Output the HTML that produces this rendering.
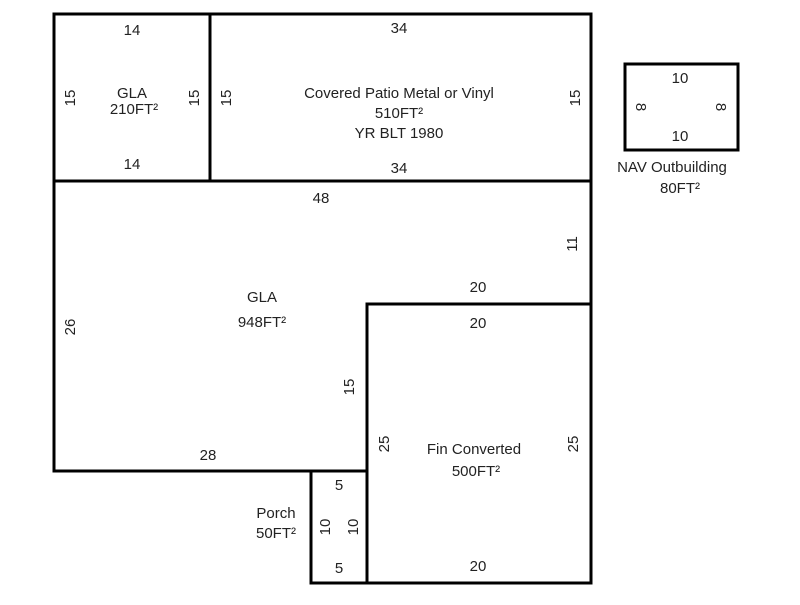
<!DOCTYPE html>
<html><head><style>
body{margin:0;background:#fff}
</style></head><body>
<svg width="800" height="600" xmlns="http://www.w3.org/2000/svg" font-family="Liberation Sans, sans-serif" font-size="15" fill="#222">
<g stroke="#000" stroke-width="3" fill="none" stroke-linecap="square">
<rect x="54" y="14" width="537" height="167"/>
<line x1="210" y1="14" x2="210" y2="181"/>
<line x1="54" y1="181" x2="54" y2="471"/>
<line x1="591" y1="181" x2="591" y2="583"/>
<line x1="367" y1="304" x2="591" y2="304"/>
<line x1="367" y1="304" x2="367" y2="583"/>
<line x1="54" y1="471" x2="367" y2="471"/>
<line x1="311" y1="471" x2="311" y2="583"/>
<line x1="311" y1="583" x2="591" y2="583"/>
<rect x="625" y="64" width="113" height="86"/>
</g>
<g text-anchor="middle">
<text x="132" y="35">14</text>
<text x="132" y="169">14</text>
<text x="132" y="98">GLA</text>
<text x="134" y="114">210FT²</text>
<text x="399" y="33">34</text>
<text x="399" y="173">34</text>
<text x="399" y="98">Covered Patio Metal or Vinyl</text>
<text x="399" y="118">510FT²</text>
<text x="399" y="138">YR BLT 1980</text>
<text x="321" y="203">48</text>
<text x="262" y="302">GLA</text>
<text x="262" y="327">948FT²</text>
<text x="478" y="292">20</text>
<text x="478" y="328">20</text>
<text x="208" y="460">28</text>
<text x="474" y="454">Fin Converted</text>
<text x="476" y="476">500FT²</text>
<text x="478" y="571">20</text>
<text x="339" y="490">5</text>
<text x="339" y="573">5</text>
<text x="276" y="518">Porch</text>
<text x="276" y="538">50FT²</text>
<text x="680" y="83">10</text>
<text x="680" y="141">10</text>
<text x="672" y="172">NAV Outbuilding</text>
<text x="680" y="193">80FT²</text>
<text transform="translate(75,98) rotate(-90)">15</text>
<text transform="translate(199,98) rotate(-90)">15</text>
<text transform="translate(231,98) rotate(-90)">15</text>
<text transform="translate(580,98) rotate(-90)">15</text>
<text transform="translate(577,244) rotate(-90)">11</text>
<text transform="translate(75,327) rotate(-90)">26</text>
<text transform="translate(354,387) rotate(-90)">15</text>
<text transform="translate(389,444) rotate(-90)">25</text>
<text transform="translate(578,444) rotate(-90)">25</text>
<text transform="translate(330,527) rotate(-90)">10</text>
<text transform="translate(358,527) rotate(-90)">10</text>
<text transform="translate(636,107) rotate(90)">8</text>
<text transform="translate(716,107) rotate(90)">8</text>
</g>
</svg>
</body></html>
